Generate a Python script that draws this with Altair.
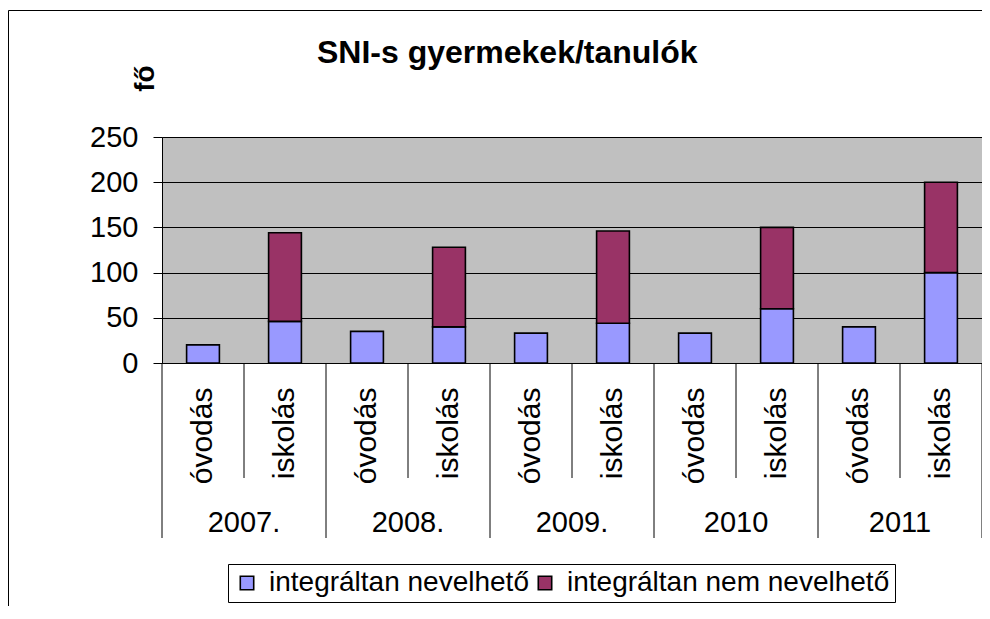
import altair as alt
import pandas as pd

years = ["2007.", "2008.", "2009.", "2010", "2011"]
types = ["óvodás", "iskolás"]
series = ["integráltan nevelhető", "integráltan nem nevelhető"]
# values in order: 2007 óvodás, 2007 iskolás, 2008 óvodás, ...
nevelheto = [20, 46, 35, 40, 33, 44, 33, 60, 40, 100]
nem_nevelheto = [0, 98, 0, 88, 0, 102, 0, 90, 0, 100]
y_ticks = [0, 50, 100, 150, 200, 250]
title_text = "SNI-s gyermekek/tanulók"

FONT = "Liberation Sans"
W, H = 820, 226

slots, rows = [], []
k = 0
for y in years:
    for t in types:
        slot = f"{y}|{t}"
        slots.append(slot)
        for si, (s, vals) in enumerate(zip(series, [nevelheto, nem_nevelheto])):
            if vals[k] > 0:
                rows.append({"slot": slot, "series": s, "value": vals[k], "ord": si})
        k += 1
df = pd.DataFrame(rows)

bars = alt.Chart(df).mark_bar(stroke="black", strokeWidth=1.6).encode(
    x=alt.X("slot:N", sort=slots,
            scale=alt.Scale(paddingInner=0.6, paddingOuter=0.3),
            axis=alt.Axis(title=None, labelExpr="split(datum.label, '|')[1]",
                          labelAngle=270, labelAlign="right", labelBaseline="middle",
                          labelPadding=24, ticks=False, domain=True, domainColor="black",
                          domainWidth=1, labelFontSize=30, labelFont=FONT, labelColor="black",
                          grid=False, labelLimit=300)),
    y=alt.Y("value:Q", stack="zero",
            scale=alt.Scale(domain=[0, 250], nice=False),
            axis=alt.Axis(values=y_ticks, title="fő", titleAngle=270, titleX=-17, titleY=-59,
                          titleAlign="center", titleBaseline="middle", titleFontSize=28,
                          titleFontWeight="bold", titleFont=FONT, titleColor="black",
                          labelFontSize=29, labelFont=FONT, labelColor="black", labelPadding=15,
                          tickSize=9, tickColor="black", domainColor="black",
                          gridColor="black", gridWidth=1)),
    color=alt.Color("series:N", sort=series,
                    scale=alt.Scale(domain=series, range=["#9999FF", "#993366"]),
                    legend=alt.Legend(orient="none", legendX=66, legendY=427,
                                      direction="horizontal", title=None,
                                      strokeColor="black", fillColor="white", padding=5,
                                      labelFontSize=28, labelFont=FONT, labelColor="black",
                                      symbolType="square", symbolSize=180,
                                      symbolStrokeColor="black", symbolStrokeWidth=1.6,
                                      labelLimit=600, columnPadding=2, labelOffset=8)),
    order=alt.Order("ord:Q"),
)

# separators of the multi-level category axis
inner_pos = pd.DataFrame({"pos": [1, 3, 5, 7, 9]})
year_pos = pd.DataFrame({"pos": [0, 2, 4, 6, 8, 10]})
year_lbl = pd.DataFrame({"pos": [1, 3, 5, 7, 9], "year": years})

qx = alt.X("pos:Q", scale=alt.Scale(domain=[0, 10], nice=False, zero=False), axis=None)

inner_sep = alt.Chart(inner_pos).mark_rule(color="black", strokeWidth=1).encode(
    x=qx, y=alt.value(H), y2=alt.value(H + 115))
year_sep = alt.Chart(year_pos).mark_rule(color="black", strokeWidth=1).encode(
    x=qx, y=alt.value(H), y2=alt.value(H + 175))
year_text = alt.Chart(year_lbl).mark_text(fontSize=29, font=FONT, color="black",
                                          baseline="middle", align="center").encode(
    x=qx, y=alt.value(H + 160), text="year:N")

title = alt.Chart(pd.DataFrame({"t": [title_text]})).mark_text(
    fontSize=32, fontWeight="bold", font=FONT, color="black",
    align="left", baseline="alphabetic").encode(
    x=alt.value(155), y=alt.value(-74), text="t:N")

one = pd.DataFrame({"a": [0]})
frame_top = alt.Chart(one).mark_rule(color="black", strokeWidth=1).encode(
    x=alt.value(-153.5), x2=alt.value(W), y=alt.value(-126.5))
frame_left = alt.Chart(one).mark_rule(color="black", strokeWidth=1).encode(
    x=alt.value(-153.5), y=alt.value(-126.5), y2=alt.value(H + 243))

chart = alt.layer(frame_top, frame_left, bars, inner_sep, year_sep, year_text, title).resolve_scale(
    x="independent"
).properties(
    width=W, height=H,
    autosize=alt.AutoSizeParams(type="none"),
    padding={"left": 154, "top": 129, "right": 0, "bottom": 243},
    background="white",
).configure_view(
    fill="#C0C0C0", stroke="#808080", strokeWidth=1
)

chart.save("out.html", embed_options={"renderer": "svg", "actions": False})
